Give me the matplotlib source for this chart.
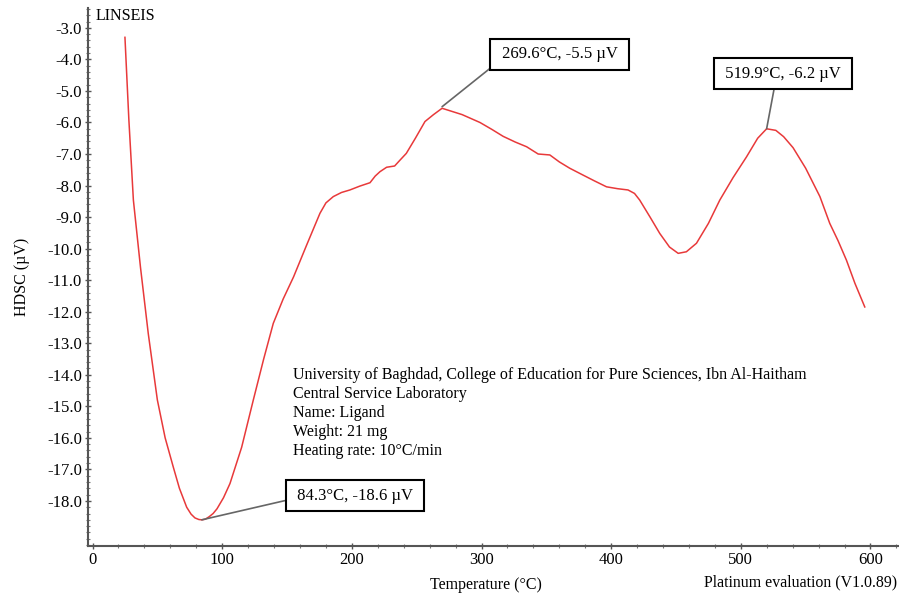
import matplotlib.pyplot as plt
from matplotlib.ticker import MultipleLocator

# DSC trace
temperature = [25, 28, 31.5, 37, 43, 50, 56, 62.3, 67, 72.6, 76, 79, 82, 84.3, 87,
               90, 93, 96, 101, 106, 115, 124, 132, 139.4, 147, 155, 165, 175.4,
               180, 185.7, 192, 198.5, 206, 214, 218, 221.7, 226.8, 233, 237, 242,
               249, 256.4, 263, 269.6, 285, 298.8, 308, 316.7, 326, 334.8, 343.7,
               352.7, 360, 368, 378.4, 387, 396.4, 405, 413, 418, 422, 430, 437.5,
               445, 451.7, 458, 465.8, 475, 483.8, 494, 504.4, 513, 519.9, 527, 533,
               540.3, 550, 561, 568.6, 575, 581.5, 588, 595.6]
hdsc = [-3.3, -5.9, -8.46, -10.6, -12.7, -14.8, -16.0, -16.93, -17.6, -18.2,
        -18.42, -18.54, -18.59, -18.6, -18.58, -18.5, -18.4, -18.25, -17.9, -17.45,
        -16.3, -14.8, -13.5, -12.37, -11.6, -10.9, -9.9, -8.88, -8.55, -8.35,
        -8.22, -8.14, -8.02, -7.91, -7.7, -7.56, -7.42, -7.38, -7.2, -6.98,
        -6.5, -5.97, -5.75, -5.55, -5.75, -6.0, -6.22, -6.44, -6.62, -6.77,
        -7.0, -7.03, -7.25, -7.45, -7.67, -7.85, -8.04, -8.1, -8.14, -8.25,
        -8.46, -9.0, -9.52, -9.95, -10.15, -10.1, -9.83, -9.2, -8.46, -7.75,
        -7.09, -6.5, -6.2, -6.25, -6.45, -6.8, -7.45, -8.35, -9.2, -9.75,
        -10.37, -11.1, -11.85]

peak_temp = [84.3, 269.6, 519.9]
peak_val = [-18.6, -5.5, -6.2]

info_lines = ["University of Baghdad, College of Education for Pure Sciences, Ibn Al-Haitham",
              "Central Service Laboratory",
              "Name: Ligand",
              "Weight: 21 mg",
              "Heating rate: 10\u00b0C/min"]

plt.rcParams['font.family'] = ['Liberation Serif', 'DejaVu Serif']

fig = plt.figure(figsize=(8.99, 5.98), dpi=100)
ax = fig.add_axes([88 / 899, 1 - 546 / 598, 811 / 899, 538 / 598])

ax.plot(temperature, hdsc, color='#e8393a', linewidth=1.1)

ax.set_xlim(-3.5, 622)
ax.set_ylim(-19.43, -2.37)
ax.xaxis.set_major_locator(MultipleLocator(100))
ax.xaxis.set_minor_locator(MultipleLocator(20))
ax.set_yticks([-3.0 - i for i in range(16)])
ax.yaxis.set_minor_locator(MultipleLocator(0.2))
ax.yaxis.set_major_formatter(lambda v, p: f"{v:.1f}")

for side in ('top', 'right'):
    ax.spines[side].set_visible(False)
for side in ('left', 'bottom'):
    ax.spines[side].set_color('#555555')
    ax.spines[side].set_linewidth(1.5)
ax.tick_params(which='major', direction='inout', length=5, width=1, color='#555555',
               labelsize=12, pad=2)
ax.tick_params(which='minor', direction='inout', length=3, width=0.8, color='#777777')

ax.set_ylabel('HDSC (\u00b5V)', fontsize=11.5, labelpad=12)
fig.text(486 / 899, 1 - 585 / 598, 'Temperature (\u00b0C)', fontsize=11.5,
         ha='center', va='center')

fig.text(96 / 899, 1 - 16 / 598, 'LINSEIS', fontsize=11.5, va='center')
fig.text(897 / 899, 1 - 582 / 598, 'Platinum evaluation (V1.0.89)', fontsize=11.4,
         ha='right', va='center')

# peak labels: text position (data) and where the leader meets the box
label_pos = [(202.4, -17.83), (360.4, -3.83), (532.4, -4.46)]
label_rel = [(0, 0.3), (0, 0), (0.44, 0)]
for t, v, pos, rel in zip(peak_temp, peak_val, label_pos, label_rel):
    ax.annotate(f" {t}\u00b0C, {v} \u00b5V ", xy=(t, v), xytext=pos,
                ha='center', va='center', fontsize=12,
                bbox=dict(boxstyle='square,pad=0.45', fc='white', ec='black', lw=1.5),
                arrowprops=dict(arrowstyle='-', color='#666666', lw=1.2,
                                relpos=rel, shrinkA=0, shrinkB=0))

ax.text((293 - 88) / 811, (546 - 367) / 538, "\n".join(info_lines),
        transform=ax.transAxes, fontsize=11.5, va='top', ha='left', linespacing=1.26)

fig.savefig('out.png', dpi=100)
